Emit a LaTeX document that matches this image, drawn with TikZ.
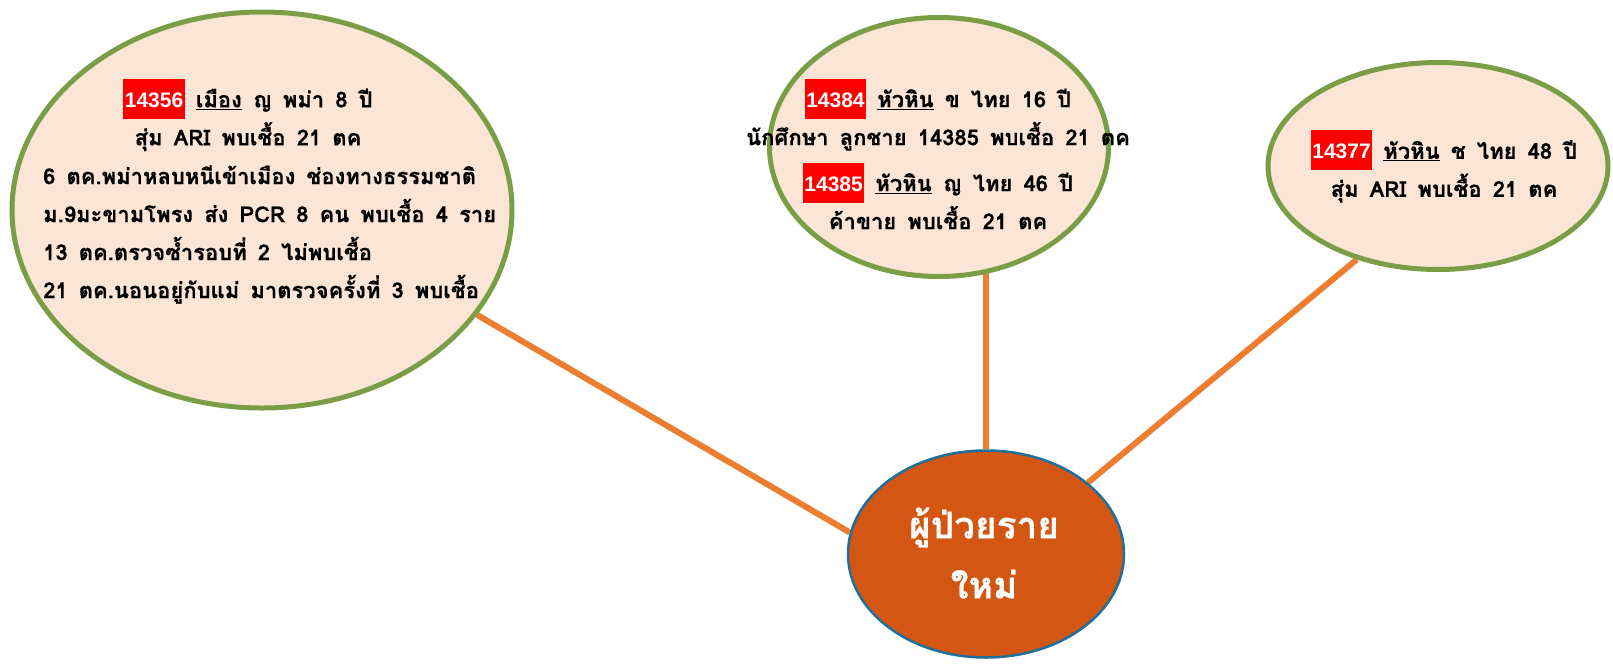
\documentclass[tikz,border=0pt]{standalone}
\usepackage{fontspec}
\newfontfamily\thai[Script=Thai, WordSpace=1.5, BoldFeatures={FakeBold=0.4}]{Loma}
\newfontfamily\idfont{Liberation Sans}
\usetikzlibrary{shapes.geometric,backgrounds}
\definecolor{peach}{HTML}{FBE5D6}
\definecolor{gborder}{HTML}{7A9E46}
\definecolor{conn}{HTML}{ED7D31}
\definecolor{core}{HTML}{D35612}
\definecolor{coreline}{HTML}{1F6F9C}
\newcommand\idbox[1]{{\setlength{\fboxsep}{0pt}\colorbox{red}{\rule[-11.5pt]{0pt}{40pt}\hspace{1.5pt}\textcolor{white}{\idfont\bfseries\fontsize{21}{24}\selectfont #1}\hspace{1.5pt}}}}
\tikzset{
  bubble/.style={ellipse, draw=gborder, line width=5pt, fill=peach, inner sep=0pt},
  corebubble/.style={ellipse, draw=coreline, line width=2.5pt, fill=core, inner sep=0pt},
  info/.style={font={\thai\bfseries\fontsize{22}{38}\selectfont}, inner sep=0pt},
  coretext/.style={font={\thai\bfseries\fontsize{37}{60}\selectfont}, text=white, inner sep=0pt, align=center},
  link/.style={draw=conn, line width=6pt}
}
\begin{document}
\begin{tikzpicture}[x=1pt,y=-1pt]
\useasboundingbox (0,0) rectangle (1613,664);
\node[bubble, minimum width=500pt, minimum height=396pt] (left) at (262,210) {};
\node[bubble, minimum width=339pt, minimum height=259pt] (mid) at (939,147) {};
\node[bubble, minimum width=340pt, minimum height=207pt] (right) at (1438,166) {};
\node[corebubble, minimum width=276pt, minimum height=207pt] (new) at (986,554) {};
\node[info, align=center] (ltop) at (248,115) {\idbox{14356} \underline{เมือง} ญ พม่า 8 ปี\\สุ่ม ARI พบเชื้อ 21 ตค};
\node[info, align=left, anchor=west] (lbot) at (43,234.5) {6 ตค.พม่าหลบหนีเข้าเมือง ช่องทางธรรมชาติ\\ม.9มะขามโพรง ส่ง PCR 8 คน พบเชื้อ 4 ราย\\13 ตค.ตรวจซ้ำรอบที่ 2 ไม่พบเชื้อ\\21 ตค.นอนอยู่กับแม่ มาตรวจครั้งที่ 3 พบเชื้อ};
\node[info, align=center] (mtext) at (938,154) {\idbox{14384} \underline{หัวหิน} ข ไทย 16 ปี\\นักศึกษา ลูกชาย 14385 พบเชื้อ 21 ตค\\[8pt]\idbox{14385} \underline{หัวหิน} ญ ไทย 46 ปี\\ค้าขาย พบเชื้อ 21 ตค};
\node[info, align=center] (rtext) at (1444,166.5) {\idbox{14377} \underline{หัวหิน} ช ไทย 48 ปี\\สุ่ม ARI พบเชื้อ 21 ตค};
\node[coretext] (ntext) at (984,553) {ผู้ป่วยราย\\ใหม่};
\begin{scope}[on background layer]
\draw[link] (left.-26) -- (new.171);
\draw[link] (new.north) -- (new.north |- mid.center);
\draw[link] (new.35) -- (right.-131);
\end{scope}
\end{tikzpicture}
\end{document}
